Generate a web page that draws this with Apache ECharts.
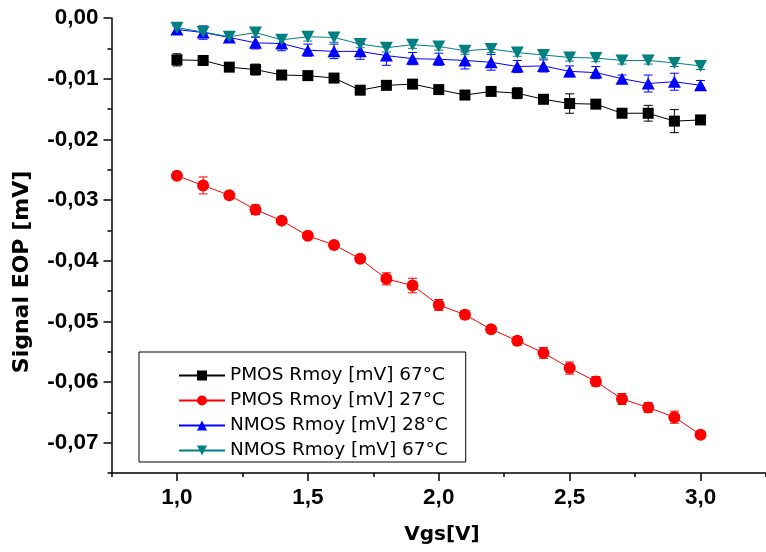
<!DOCTYPE html>
<html>
<head>
<meta charset="utf-8">
<script src="https://cdn.jsdelivr.net/npm/echarts@6/dist/echarts.min.js"></script>
<style>
html,body{margin:0;padding:0;background:#fff;}
#chart{width:766px;height:552px;}
</style>
</head>
<body>
<div id="chart"></div>
<script>
// ---- data ----
const vgs = [1.0, 1.1, 1.2, 1.3, 1.4, 1.5, 1.6, 1.7, 1.8, 1.9, 2.0, 2.1, 2.2, 2.3, 2.4, 2.5, 2.6, 2.7, 2.8, 2.9, 3.0];

const seriesNames = ['PMOS Rmoy [mV] 67°C', 'PMOS Rmoy [mV] 27°C', 'NMOS Rmoy [mV] 28°C', 'NMOS Rmoy [mV] 67°C'];

const pmos67 = [-0.0069, -0.0070, -0.0081, -0.0085, -0.0094, -0.0095, -0.0099, -0.0119, -0.0111, -0.0109, -0.0118, -0.0127, -0.0121, -0.0124, -0.0134, -0.0141, -0.0142, -0.0157, -0.0157, -0.0170, -0.0168];
const pmos67Err = [0.0010, 0.0004, 0.0004, 0.0009, 0.0005, 0.0003, 0.0004, 0.0004, 0.0005, 0.0004, 0.0003, 0.0004, 0.0004, 0.0009, 0.0004, 0.0016, 0.0004, 0.0005, 0.0013, 0.0019, 0.0004];

const pmos27 = [-0.0260, -0.0276, -0.0292, -0.0316, -0.0334, -0.0359, -0.0374, -0.0397, -0.0430, -0.0441, -0.0473, -0.0489, -0.0513, -0.0532, -0.0552, -0.0577, -0.0599, -0.0628, -0.0642, -0.0658, -0.0687];
const pmos27Err = [0.0004, 0.0014, 0.0005, 0.0008, 0.0004, 0.0004, 0.0004, 0.0004, 0.0010, 0.0012, 0.0009, 0.0007, 0.0004, 0.0007, 0.0009, 0.0010, 0.0008, 0.0009, 0.0008, 0.0010, 0.0004];

const nmos28 = [-0.0019, -0.0024, -0.0032, -0.0041, -0.0042, -0.0053, -0.0055, -0.0055, -0.0062, -0.0067, -0.0068, -0.0070, -0.0073, -0.0080, -0.0079, -0.0088, -0.0090, -0.0100, -0.0108, -0.0105, -0.0111];
const nmos28Err = [0.0006, 0.0011, 0.0006, 0.0010, 0.0012, 0.0010, 0.0012, 0.0013, 0.0016, 0.0010, 0.0010, 0.0014, 0.0013, 0.0010, 0.0010, 0.0009, 0.0010, 0.0006, 0.0014, 0.0014, 0.0008];

const nmos67 = [-0.0016, -0.0023, -0.0031, -0.0024, -0.0036, -0.0031, -0.0032, -0.0043, -0.0049, -0.0044, -0.0047, -0.0054, -0.0051, -0.0057, -0.0061, -0.0065, -0.0066, -0.0070, -0.0070, -0.0074, -0.0079];
const nmos67Err = [0.0008, 0.0009, 0.0006, 0.0008, 0.0006, 0.0007, 0.0008, 0.0006, 0.0007, 0.0006, 0.0006, 0.0006, 0.0006, 0.0006, 0.0005, 0.0006, 0.0006, 0.0006, 0.0006, 0.0006, 0.0006];

const xTicks = [1.0, 1.5, 2.0, 2.5, 3.0];
const yTicks = [-0.07, -0.06, -0.05, -0.04, -0.03, -0.02, -0.01, 0.00];

const xTitle = 'Vgs[V]';
const yTitle = 'Signal EOP [mV]';

// ---- chart ----
const colors = ['#000000', '#ff0000', '#0000ff', '#008080'];
const symbols = ['rect', 'circle', 'triangle', 'path://M0,0 L10,0 L5,10 Z'];
const symbolSizes = [11, 12, [13, 12], [13, 12]];
const values = [pmos67, pmos27, nmos28, nmos67];
const errors = [pmos67Err, pmos27Err, nmos28Err, nmos67Err];

function errRender(color) {
  return function (params, api) {
    const x = api.value(0), y = api.value(1), e = api.value(2);
    const hi = api.coord([x, y + e]);
    const lo = api.coord([x, y - e]);
    const hw = 4.5;
    const style = { stroke: color, lineWidth: 1 };
    return {
      type: 'group',
      children: [
        { type: 'line', shape: { x1: hi[0], y1: hi[1], x2: lo[0], y2: lo[1] }, style: style },
        { type: 'line', shape: { x1: hi[0] - hw, y1: hi[1], x2: hi[0] + hw, y2: hi[1] }, style: style },
        { type: 'line', shape: { x1: lo[0] - hw, y1: lo[1], x2: lo[0] + hw, y2: lo[1] }, style: style }
      ]
    };
  };
}

const series = [];
values.forEach(function (vals, k) {
  series.push({
    type: 'custom',
    name: seriesNames[k] + ' err',
    xAxisIndex: 0, yAxisIndex: 0,
    renderItem: errRender(colors[k]),
    encode: { x: 0, y: 1 },
    data: vgs.map(function (x, i) { return [x, vals[i], errors[k][i]]; }),
    z: 1,
    silent: true
  });
});
values.forEach(function (vals, k) {
  series.push({
    type: 'line',
    name: seriesNames[k],
    xAxisIndex: 0, yAxisIndex: 0,
    data: vgs.map(function (x, i) { return [x, vals[i]]; }),
    symbol: symbols[k],
    symbolSize: symbolSizes[k],
    showSymbol: true,
    lineStyle: { color: colors[k], width: 1 },
    itemStyle: { color: colors[k] },
    z: 2 + k,
    animation: false
  });
});

const tickFont = { color: '#000', fontSize: 22.5, fontWeight: 'bold', fontFamily: 'Liberation Sans' };

const option = {
  backgroundColor: '#ffffff',
  animation: false,
  grid: { left: 111.5, top: 18, right: -7, bottom: 79, containLabel: false },
  xAxis: [
    {
      type: 'value', min: 0.75, max: 3.25, position: 'bottom',
      axisLine: { show: true, onZero: false, lineStyle: { color: '#000', width: 1.5 } },
      axisTick: { show: true, inside: false, length: 8, customValues: xTicks, lineStyle: { color: '#000', width: 1.5 } },
      axisLabel: Object.assign({ show: true, margin: 13, customValues: xTicks, formatter: function (v) { return v.toFixed(1).replace('.', ','); } }, tickFont),
      splitLine: { show: false }
    },
    {
      type: 'value', min: 0.75, max: 3.25, interval: 0.25, position: 'bottom',
      axisLine: { show: false, onZero: false },
      axisTick: { show: true, inside: false, length: 4, lineStyle: { color: '#000', width: 1.5 } },
      axisLabel: { show: false },
      splitLine: { show: false }
    }
  ],
  yAxis: [
    {
      type: 'value', min: -0.075, max: 0, position: 'left',
      axisLine: { show: true, onZero: false, lineStyle: { color: '#000', width: 1.5 } },
      axisTick: { show: true, inside: false, length: 8, customValues: yTicks, lineStyle: { color: '#000', width: 1.5 } },
      axisLabel: Object.assign({ show: true, margin: 13, customValues: yTicks, formatter: function (v) {
        if (Math.abs(v) < 1e-9) return '0,00';
        return v.toFixed(2).replace('.', ',');
      } }, tickFont),
      splitLine: { show: false }
    },
    {
      type: 'value', min: -0.075, max: 0, interval: 0.005, position: 'left',
      axisLine: { show: false, onZero: false },
      axisTick: { show: true, inside: false, length: 4, lineStyle: { color: '#000', width: 1.5 } },
      axisLabel: { show: false },
      splitLine: { show: false }
    }
  ],
  legend: {
    show: true,
    orient: 'vertical',
    left: 139, top: 352,
    padding: [14, 18, 2, 39],
    itemGap: 6,
    itemWidth: 46,
    itemHeight: 12.5,
    borderColor: '#000',
    borderWidth: 1,
    borderRadius: 0,
    backgroundColor: '#fff',
    data: seriesNames,
    textStyle: { color: '#000', fontSize: 18.5, fontFamily: 'DejaVu Sans' }
  },
  graphic: [
    {
      type: 'text', x: 22, y: 272, rotation: Math.PI / 2,
      style: { text: yTitle, fill: '#000', font: 'bold 22px "DejaVu Sans", sans-serif', align: 'center', verticalAlign: 'middle' }
    },
    {
      type: 'text', x: 442, y: 535,
      style: { text: xTitle, fill: '#000', font: 'bold 20px "DejaVu Sans", sans-serif', align: 'center', verticalAlign: 'middle' }
    }
  ],
  series: series
};

const chart = echarts.init(document.getElementById('chart'), null, { renderer: 'canvas' });
chart.setOption(option);
</script>
</body>
</html>
